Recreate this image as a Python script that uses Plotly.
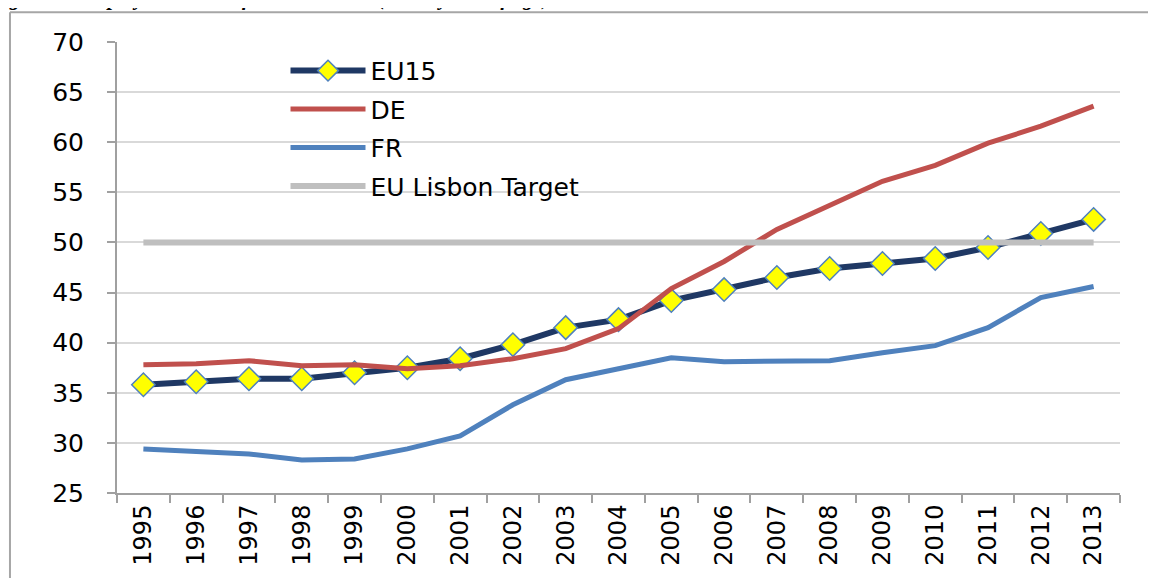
import plotly.graph_objects as go

years = [str(y) for y in range(1995, 2014)]

eu15 = [35.8, 36.1, 36.4, 36.4, 37.0, 37.5, 38.4, 39.8, 41.5, 42.3,
        44.2, 45.3, 46.5, 47.4, 47.9, 48.4, 49.5, 50.9, 52.3]
de = [37.8, 37.9, 38.2, 37.7, 37.8, 37.4, 37.7, 38.4, 39.4, 41.4,
      45.4, 48.1, 51.3, 53.7, 56.1, 57.7, 59.9, 61.6, 63.6]
fr = [29.4, 29.1, 28.9, 28.3, 28.4, 29.4, 30.7, 33.8, 36.3, 37.4,
      38.5, 38.1, 38.2, 38.2, 39.0, 39.7, 41.5, 44.5, 45.6]
lisbon_target = [50] * len(years)

fig = go.Figure()

fig.add_trace(go.Scatter(
    x=years, y=eu15, name="EU15", mode="lines+markers", legendgroup="a",
    line=dict(color="#1F3864", width=6),
    marker=dict(symbol="diamond", size=18, color="#FFFF00",
                line=dict(color="#4F81BD", width=1.5)),
))
fig.add_trace(go.Scatter(
    x=years, y=de, name="DE", mode="lines", legendgroup="b",
    line=dict(color="#C0504D", width=5),
))
fig.add_trace(go.Scatter(
    x=years, y=fr, name="FR", mode="lines", legendgroup="c",
    line=dict(color="#4F81BD", width=5),
))
fig.add_trace(go.Scatter(
    x=years, y=lisbon_target, name="EU Lisbon Target", mode="lines", legendgroup="d",
    line=dict(color="#BFBFBF", width=6),
))

# caption of the source page, cropped at the top edge like in the original
fig.add_annotation(
    text="<b><i>Figure 4: Employment rate of older workers (55-64 years of age)</i></b>",
    xref="paper", yref="paper", x=-0.13, y=1.0658, xanchor="left", yanchor="bottom",
    showarrow=False, font=dict(family="Liberation Serif", size=21, color="black"),
)

# outer frame (left and top edges)
fig.add_shape(type="line", xref="paper", yref="paper", x0=-0.1067, x1=-0.1067,
              y0=1.0658, y1=-0.2, line=dict(color="#A6A6A6", width=2))
fig.add_shape(type="line", xref="paper", yref="paper", x0=-0.1067, x1=1.1,
              y0=1.0658, y1=1.0658, line=dict(color="#A6A6A6", width=2))

fig.update_layout(
    width=1148, height=570,
    margin=dict(l=109, r=36, t=34, b=80),
    plot_bgcolor="white", paper_bgcolor="white",
    font=dict(family="DejaVu Sans", color="black"),
    showlegend=True,
    legend=dict(x=0.168, y=0.987, xanchor="left", yanchor="top",
                font=dict(size=25), itemwidth=75,
                traceorder="grouped", tracegroupgap=3,
                bgcolor="rgba(0,0,0,0)"),
    xaxis=dict(type="category", range=[-0.5, 18.5], tickson="boundaries",
               ticks="outside", ticklen=8, tickcolor="#A0A0A0", tickwidth=2,
               showline=True, linecolor="#A0A0A0", linewidth=2,
               showgrid=False, tickangle=-90, tickfont=dict(size=24)),
    yaxis=dict(range=[25, 70], dtick=5, ticks="outside", ticklen=8,
               tickcolor="#A0A0A0", tickwidth=2, ticklabelstandoff=18,
               showline=True, linecolor="#A0A0A0", linewidth=2,
               showgrid=True, gridcolor="#D9D9D9", gridwidth=2,
               zeroline=False, tickfont=dict(size=25)),
)

fig.write_html("out.html")
